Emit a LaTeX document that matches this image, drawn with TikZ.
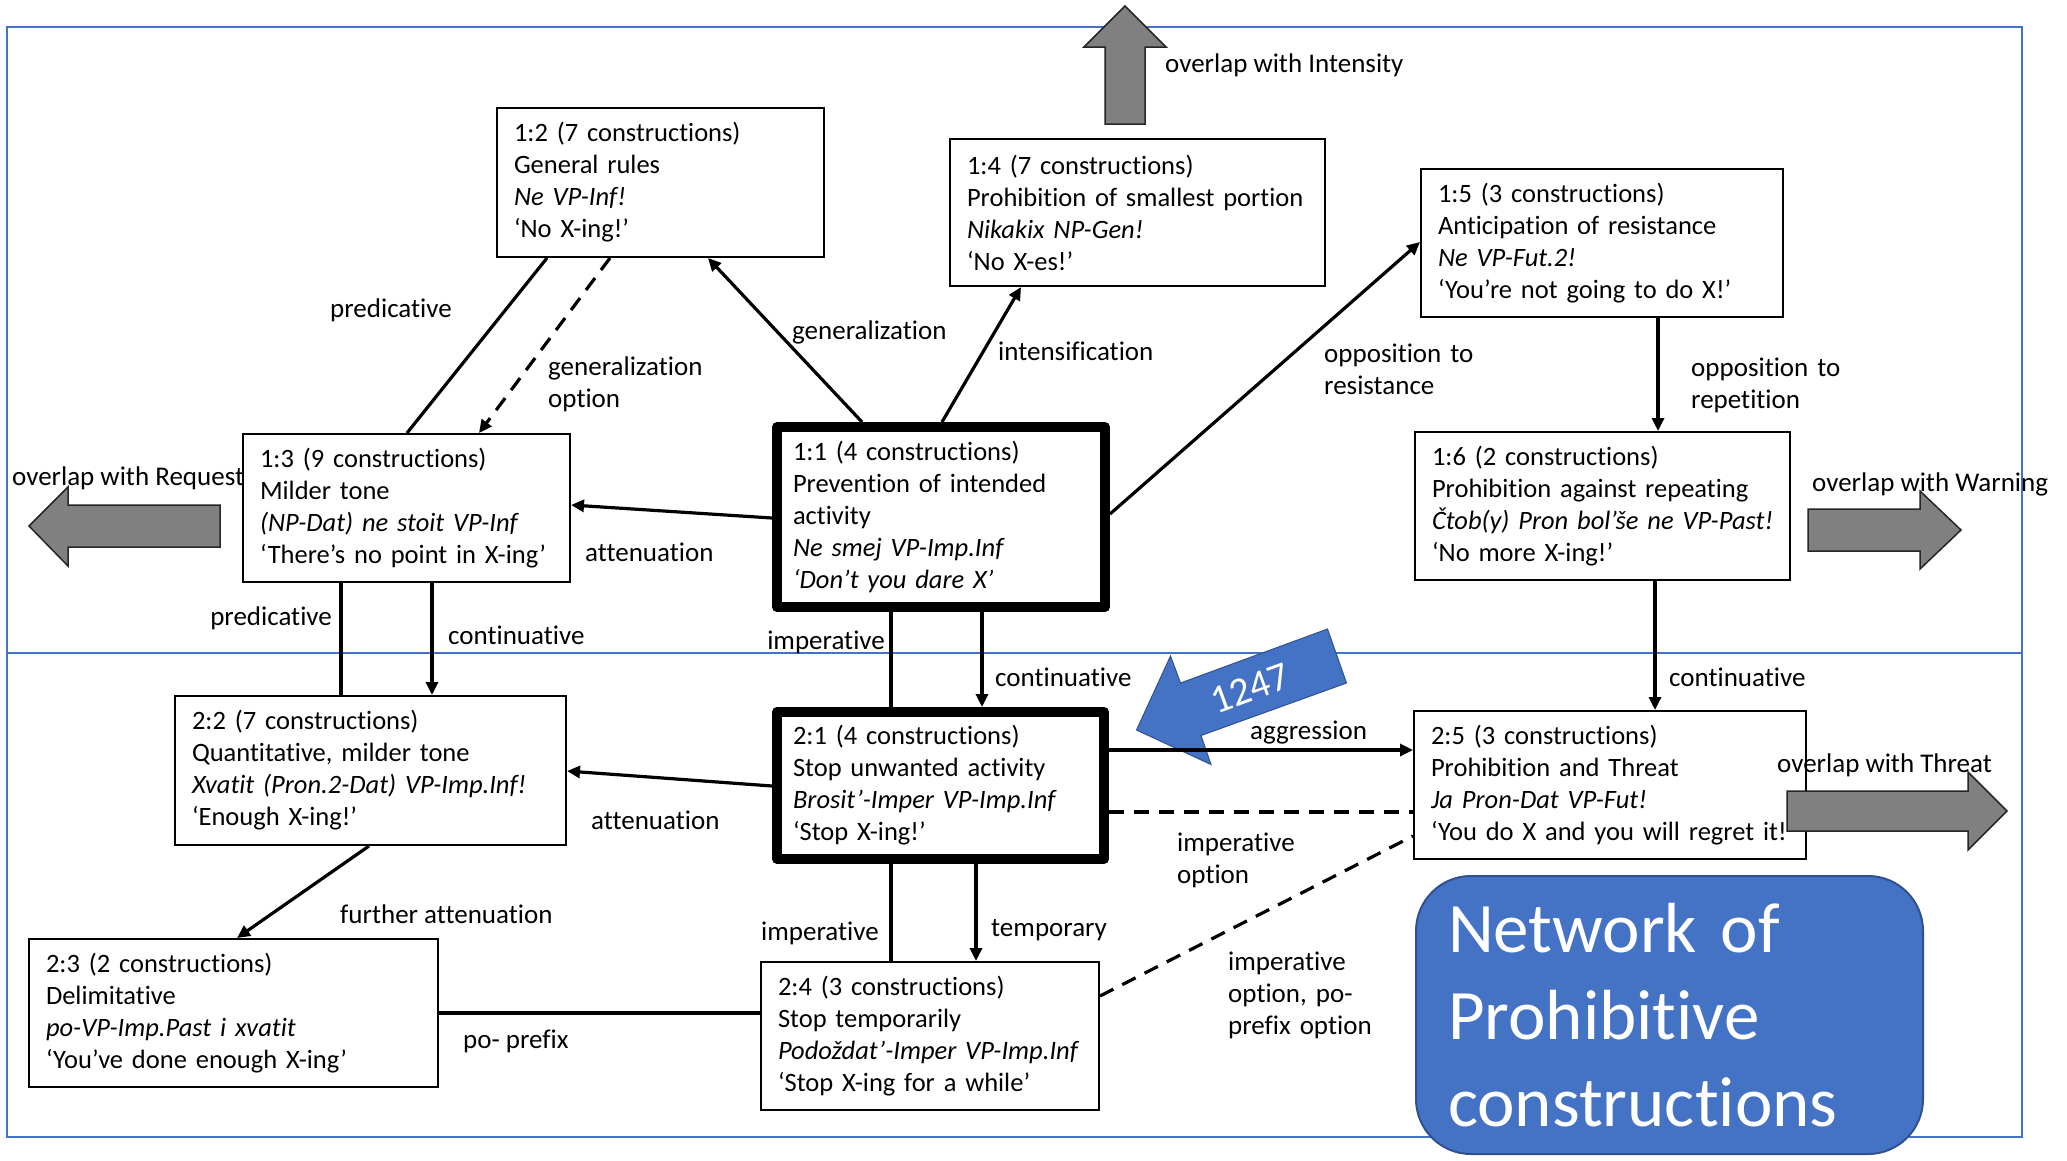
\documentclass[tikz,border=0pt]{standalone}
\usepackage{fontspec}
\setmainfont{Carlito}[Ligatures={NoCommon,NoContextual,NoRare}]
\usetikzlibrary{arrows.meta}
\definecolor{frameblue}{RGB}{68,114,196}
\definecolor{titleblue}{RGB}{68,114,196}
\definecolor{titleedge}{RGB}{47,82,143}
\definecolor{arrowgray}{RGB}{128,128,128}
\newcommand{\fs}{\fontsize{27pt}{32pt}\selectfont}
\newcommand{\bfs}{\fontsize{26.5pt}{32pt}\selectfont}
\begin{document}
\begin{tikzpicture}[x=1pt,y=-1pt,
  cbox/.style={draw, line width=2pt, inner xsep=17pt, inner ysep=0pt, align=left, anchor=north west, font=\bfs},
  tbox/.style={cbox, line width=10pt, line join=round, inner xsep=16pt},
  lbl/.style={inner sep=0pt, font=\fs, anchor=base west},
  mlbl/.style={lbl, text width=260pt, align=left},
  conn/.style={line width=3.2pt},
  arr/.style={conn, -{Triangle[length=13pt,width=12pt]}},
  dashline/.style={conn, dash pattern=on 15pt off 10pt},
  grayarrow/.style={fill=arrowgray, draw=black!85, line width=1.5pt, line join=miter},
]
\useasboundingbox (0,0) rectangle (2067,1160);
\fill[white] (0,0) rectangle (2067,1160);

% frame
\draw[frameblue, line width=2pt] (7,27) rectangle (2022,1137);
\draw[frameblue, line width=2pt] (7,653) -- (2022,653);

% boxes
\node[cbox, text width=293pt, minimum height=149pt] (n12) at (496,107)
  {1:2 (7 constructions)\\General rules\\\textit{Ne VP-Inf!}\\‘No X-ing!’};
\node[cbox, text width=341pt, minimum height=147pt] (n14) at (949,138)
  {1:4 (7 constructions)\\\mbox{Prohibition of smallest portion}\\\textit{Nikakix NP-Gen!}\\‘No X-es!’};
\node[cbox, text width=328pt, minimum height=148pt] (n15) at (1420,168)
  {1:5 (3 constructions)\\Anticipation of resistance\\\textit{Ne VP-Fut.2!}\\\mbox{‘You’re not going to do X!’}};
\node[cbox, text width=341pt, minimum height=148pt] (n16) at (1414,431)
  {1:6 (2 constructions)\\\mbox{Prohibition against repeating}\\\mbox{\textit{Čtob(y) Pron bol’še ne VP-Past!}}\\‘No more X-ing!’};
\node[cbox, text width=293pt, minimum height=148pt] (n13) at (242,433)
  {1:3 (9 constructions)\\Milder tone\\\mbox{\textit{(NP-Dat) ne stoit VP-Inf}}\\\mbox{‘There’s no point in X-ing’}};
\node[tbox, text width=296pt, minimum height=180pt] (n11) at (772,422)
  {1:1 (4 constructions)\\Prevention of intended\\activity\\\textit{Ne smej VP-Imp.Inf}\\\textit{‘Don’t you dare X’}};
\node[tbox, text width=295pt, minimum height=147pt] (n21) at (772,707)
  {2:1 (4 constructions)\\\mbox{Stop unwanted activity}\\\mbox{\textit{Brosit’-Imper VP-Imp.Inf}}\\‘Stop X-ing!’};
\node[cbox, text width=357pt, minimum height=149pt] (n22) at (174,695)
  {2:2 (7 constructions)\\Quantitative, milder tone\\\mbox{\textit{Xvatit (Pron.2-Dat) VP-Imp.Inf!}}\\‘Enough X-ing!’};
\node[cbox, text width=375pt, minimum height=148pt] (n23) at (28,938)
  {2:3 (2 constructions)\\Delimitative\\\textit{po-VP-Imp.Past i xvatit}\\\mbox{‘You’ve done enough X-ing’}};
\node[cbox, text width=304pt, minimum height=148pt] (n24) at (760,961)
  {2:4 (3 constructions)\\Stop temporarily\\\mbox{\textit{Podoždat’-Imper VP-Imp.Inf}}\\\mbox{‘Stop X-ing for a while’}};
\node[cbox, text width=358pt, minimum height=148pt] (n25) at (1413,710)
  {2:5 (3 constructions)\\Prohibition and Threat\\\textit{Ja Pron-Dat VP-Fut!}\\\mbox{‘You do X and you will regret it!’}};

% blue 1247 arrow
\path[fill=titleblue, draw=titleedge, line width=1pt]
  (1136.5,730) -- (1170.5,656) -- (1180.5,683) -- (1327.5,629) -- (1346.5,683)
  -- (1201,735.5) -- (1211,764.5) -- cycle;
\node[inner sep=0pt, text=white, font=\fontsize{40pt}{44pt}\selectfont, rotate=20] (num) at (1250,688) {1247};

% connectors
\draw[arr] (862,0 |- n11.north) -- (708,0 |- n12.south);
\draw[arr] (942,0 |- n11.north) -- (1021,0 |- n14.south);
\draw[arr] (n11.east |- 0,514) -- (n15.west |- 0,242);
\draw[arr] (1658,0 |- n15.south) -- (1658,0 |- n16.north);
\draw[arr] (n11.west |- 0,518) -- (n13.east |- 0,505);
\draw[conn] (547,0 |- n12.south) -- (407,0 |- n13.north);
\draw[dashline, -{Triangle[length=13pt,width=12pt]}] (610,0 |- n12.south) -- (479,0 |- n13.north);
\draw[conn] (341,0 |- n13.south) -- (341,0 |- n22.north);
\draw[arr] (432,0 |- n13.south) -- (432,0 |- n22.north);
\draw[conn] (891,0 |- n11.south) -- (891,0 |- n21.north);
\draw[arr] (982,0 |- n11.south) -- (982,0 |- n21.north);
\draw[arr] (n21.east |- 0,750) -- (n25.west |- 0,750);
\draw[dashline] (n21.east |- 0,812) -- (n25.west |- 0,812);
\draw[dashline] (n24.east |- 0,996) -- (n25.west |- 0,836);
\draw[conn] (891,0 |- n21.south) -- (891,0 |- n24.north);
\draw[arr] (976,0 |- n21.south) -- (976,0 |- n24.north);
\draw[arr] (369,0 |- n22.south) -- (237,0 |- n23.north);
\draw[conn] (n23.east |- 0,1013) -- (n24.west |- 0,1013);
\draw[arr] (n21.west |- 0,786) -- (n22.east |- 0,771);
\draw[arr] (1655,0 |- n16.south) -- (1655,0 |- n25.north);

% connector labels
\node[lbl] (l1) at (330,317) {predicative};
\node[mlbl] (l2) at (548,375) {generalization\\option};
\node[lbl] (l3) at (792,339) {generalization};
\node[lbl] (l4) at (998,360) {intensification};
\node[mlbl] (l5) at (1324,362) {opposition to\\resistance};
\node[mlbl] (l6) at (1691,376) {opposition to\\repetition};
\node[lbl] (l7) at (585,561) {attenuation};
\node[lbl, anchor=base east] (l8) at (332,625) {predicative};
\node[lbl] (l9) at (448,644) {continuative};
\node[lbl, anchor=base east] (l10) at (885,649) {imperative};
\node[lbl] (l11) at (995,686) {continuative};
\node[lbl] (l12) at (1250,739) {aggression};
\node[mlbl] (l13) at (1177,851) {imperative\\option};
\node[mlbl] (l14) at (1228,970) {imperative\\option, po-\\prefix option};
\node[lbl] (l15) at (761,940) {imperative};
\node[lbl] (l16) at (991,936) {temporary};
\node[lbl] (l17) at (340,923) {further attenuation};
\node[lbl] (l18) at (463,1048) {po- prefix};
\node[lbl] (l19) at (591,829) {attenuation};
\node[lbl] (l20) at (1669,686) {continuative};

% gray overlap arrows
\path[grayarrow] (1105,124) -- (1105,47) -- (1084,47) -- (1125,6) -- (1166,47) -- (1145,47) -- (1145,124) -- cycle;
\path[grayarrow] (220,505) -- (68,505) -- (68,487) -- (29,526) -- (68,566) -- (68,547) -- (220,547) -- cycle;
\path[grayarrow] (1808,509) -- (1920,509) -- (1920,491) -- (1961,530) -- (1920,569) -- (1920,551) -- (1808,551) -- cycle;
\path[grayarrow] (1787,791) -- (1968,791) -- (1968,772) -- (2007,811) -- (1968,850) -- (1968,831) -- (1787,831) -- cycle;

\node[lbl] (o1) at (12,485) {overlap with Request};
\node[lbl] (o2) at (1165,72) {overlap with Intensity};
\node[lbl] (o3) at (1812,491) {overlap with Warning};
\node[lbl] (o4) at (1777,772) {overlap with Threat};

% title
\node[fill=titleblue, draw=titleedge, line width=2pt, rounded corners=55pt,
  anchor=north west, minimum height=278pt, text width=443pt, inner xsep=32pt, inner ysep=0pt,
  align=left, text=white, font=\fontsize{71pt}{87pt}\selectfont] (title) at (1415,875)
  {Network of\\Prohibitive\\constructions};
\end{tikzpicture}
\end{document}
